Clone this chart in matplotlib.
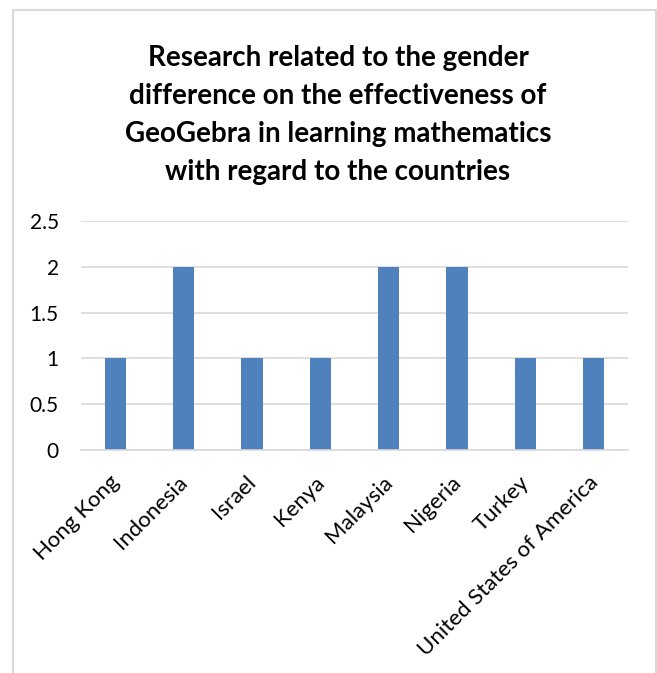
import matplotlib.pyplot as plt
from matplotlib.patches import Rectangle
from matplotlib.transforms import ScaledTranslation

countries = ['Hong Kong', 'Indonesia', 'Israel', 'Kenya', 'Malaysia',
             'Nigeria', 'Turkey', 'United States of America']
counts = [1, 2, 1, 1, 2, 2, 1, 1]
yticks = [0, 0.5, 1, 1.5, 2, 2.5]
title = ('Research related to the gender\ndifference on the effectiveness of\n'
         'GeoGebra in learning mathematics\nwith regard to the countries')

plt.rcParams['font.family'] = ['Lato', 'DejaVu Sans']

W, H = 657, 673
fig = plt.figure(figsize=(W/100, H/100), dpi=100)

# chart border (runs off the bottom of the image)
fig.patches.append(Rectangle((13/W, -0.05), (656-13)/W, 1.05 - 10/H,
                             transform=fig.transFigure, fill=False,
                             edgecolor='#d9d9d9', linewidth=1.5))

ax = fig.add_axes([81/W, 1-450/H, (628-81)/W, (450-221)/H])
x = range(len(countries))
ax.bar(x, counts, width=0.31, color='#4f81bd', zorder=2)
ax.set_xlim(-0.5, len(countries)-0.5)
ax.set_ylim(0, 2.5)
ax.set_yticks(yticks)
ax.set_yticklabels(['0', '0.5', '1', '1.5', '2', '2.5'])
ax.yaxis.grid(True, color='#d9d9d9', linewidth=1.2, zorder=0)
for s in ['top', 'right', 'left']:
    ax.spines[s].set_visible(False)
ax.spines['bottom'].set_color('#d9d9d9')
ax.spines['bottom'].set_linewidth(1.2)
ax.tick_params(length=0, labelsize=15, colors='#000000')
ax.tick_params(axis='y', pad=16)
ax.set_xticks(list(x))
ax.set_xticklabels(countries, rotation=45, ha='right', rotation_mode='anchor',
                   fontsize=16)
ax.tick_params(axis='x', pad=10)
shift = ScaledTranslation(-6/100, -8/100, fig.dpi_scale_trans)
for lbl in ax.get_xticklabels():
    lbl.set_transform(lbl.get_transform() + shift)

fig.text(338/W, 1-115/H, title, ha='center', va='center', fontsize=20,
         fontweight='bold', linespacing=1.58)

fig.savefig('out.png', dpi=100)
